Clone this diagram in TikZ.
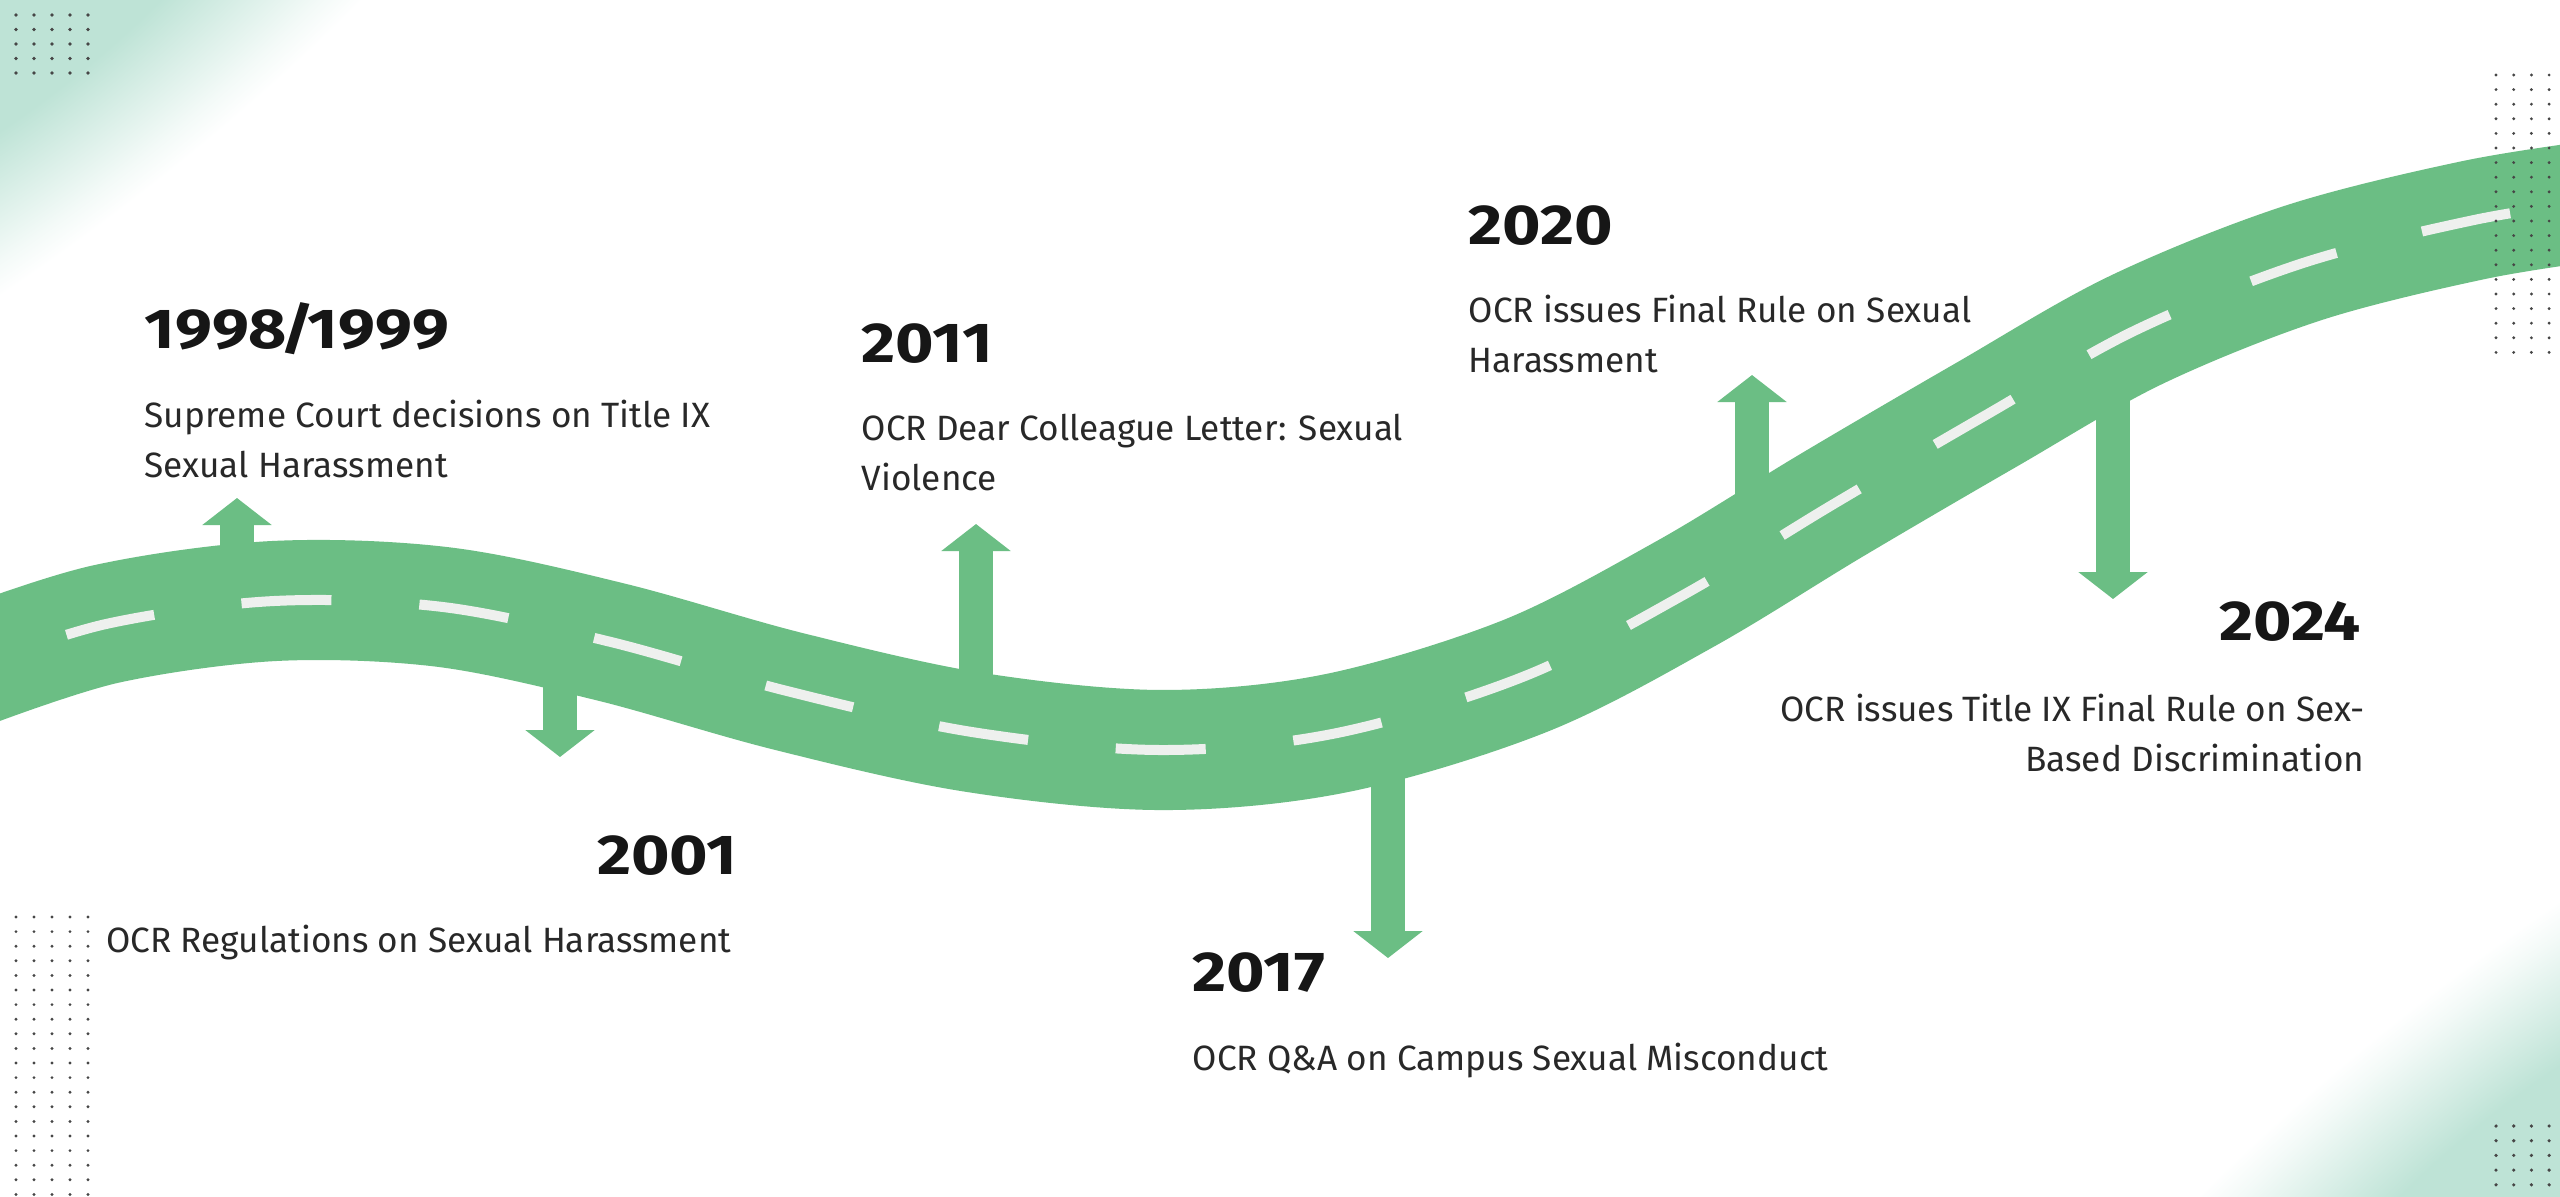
\documentclass[tikz,border=0pt]{standalone}
\usepackage{fontspec}
\setmainfont{Fira Sans}
\newfontfamily\yearfont[Numbers=Proportional, FakeStretch=1.17]{Fira Sans}
\usetikzlibrary{arrows.meta}
\definecolor{roadgreen}{RGB}{107,190,132}
\definecolor{lanewhite}{RGB}{238,240,238}
\definecolor{mint}{RGB}{190,227,214}
\definecolor{inkdark}{RGB}{22,22,22}
\definecolor{inkgray}{RGB}{40,40,40}
\definecolor{dotgray}{RGB}{70,70,70}
\pgfdeclareradialshading{cornerglow}{\pgfpoint{0bp}{0bp}}{color(0bp)=(mint); color(11bp)=(mint); color(17bp)=(mint!55!white); color(22bp)=(mint!18!white); color(25bp)=(white); color(50bp)=(white)}
\tikzset{
  road/.style={draw=roadgreen, line width=1.2cm},
  lane/.style={draw=lanewhite, line width=0.1cm, dash pattern=on 0.9cm off 0.88cm, dash phase=0.76cm},
  pointer/.style={draw=roadgreen, line width=0.34cm, -{Triangle[width=0.68cm,length=0.27cm]}},
  year/.style={font=\yearfont\bfseries\fontsize{16}{19}\selectfont, text=inkdark, inner sep=0pt},
  desc/.style={font=\fontsize{10}{13.94}\selectfont, text=inkgray, inner sep=0pt},
}
\begin{document}
\begin{tikzpicture}[x=0.01cm, y=-0.01cm]
  \useasboundingbox (0,0) rectangle (2560,1196);
  \clip (0,0) rectangle (2560,1196);
  \fill[white] (0,0) rectangle (2560,1196);
  % corner glows
  \shade[shading=cornerglow, transform canvas={rotate around={38:(0,0)}}] (0,0) ellipse [x radius=780, y radius=240];
  \shade[shading=cornerglow, transform canvas={rotate around={38:(2560,1196)}}] (2560,1196) ellipse [x radius=780, y radius=240];
  % points on the road and arrow tips
  \coordinate (r1998) at (237,606);  \coordinate (t1998) at (237,498);
  \coordinate (r2001) at (560,628);  \coordinate (t2001) at (560,757);
  \coordinate (r2011) at (976,733);  \coordinate (t2011) at (976,524);
  \coordinate (r2017) at (1388,720); \coordinate (t2017) at (1388,958);
  \coordinate (r2020) at (1752,555); \coordinate (t2020) at (1752,375);
  \coordinate (r2024) at (2113,340); \coordinate (t2024) at (2113,599);
  \foreach \yr in {1998,2001,2011,2017,2020,2024}
    \draw[pointer] (r\yr) -- (t\yr);
  % road
  \draw[road] plot[smooth, tension=0.55] coordinates {(-30,668) (106,624) (274,601) (443,607) (611,642) (787,691) (972,732) (1161,750) (1337,733) (1525,676) (1685,594) (1832,505) (1986,415) (2136,330) (2303,263) (2474,220) (2600,200)};
  \draw[lane] plot[smooth, tension=0.55] coordinates {(-30,668) (106,624) (274,601) (443,607) (611,642) (787,691) (972,732) (1161,750) (1337,733) (1525,676) (1685,594) (1832,505) (1986,415) (2136,330) (2303,263) (2474,220) (2600,200)};
  % dot grids
  \foreach \i in {0,...,4} \foreach \j in {0,...,4}
    \fill[dotgray] ({16+18*\i},{15+14.5*\j}) circle (1.8);
  \foreach \i in {0,...,4} \foreach \j in {0,...,19}
    \fill[dotgray] ({16+18*\i},{917+14.6*\j}) circle (1.6);
  \foreach \i in {0,...,3} \foreach \j in {0,...,19}
    \fill[dotgray] ({2496+17.7*\i},{75+14.6*\j}) circle (1.6);
  \foreach \i in {0,...,3} \foreach \j in {0,...,4}
    \fill[dotgray] ({2496+17.7*\i},{1126+14.7*\j}) circle (1.8);
  % labels
  \node[year, anchor=base west] (y1998) at (144,348) {1998\kern-.12em/\kern-.12em1999};
  \node[desc, anchor=base west, align=left] (d1998) at (144,477) {Supreme Court decisions on Title IX\\Sexual Harassment};
  \node[year, anchor=base east] (y2001) at (738,874) {2001};
  \node[desc, anchor=base east, align=right] (d2001) at (732,952) {OCR Regulations on Sexual Harassment};
  \node[year, anchor=base west] (y2011) at (861,362) {2011};
  \node[desc, anchor=base west, align=left] (d2011) at (861,490) {OCR Dear Colleague Letter: Sexual\\Violence};
  \node[year, anchor=base west] (y2017) at (1192,991) {2017};
  \node[desc, anchor=base west, align=left] (d2017) at (1192,1070) {OCR Q\&A on Campus Sexual Misconduct};
  \node[year, anchor=base west] (y2020) at (1468,244) {2020};
  \node[desc, anchor=base west, align=left] (d2020) at (1468,372) {OCR issues Final Rule on Sexual\\Harassment};
  \node[year, anchor=base east] (y2024) at (2361,640) {2024};
  \node[desc, anchor=base east, align=right] (d2024) at (2365,771) {OCR issues Title IX Final Rule on Sex-\\Based Discrimination};
\end{tikzpicture}
\end{document}
